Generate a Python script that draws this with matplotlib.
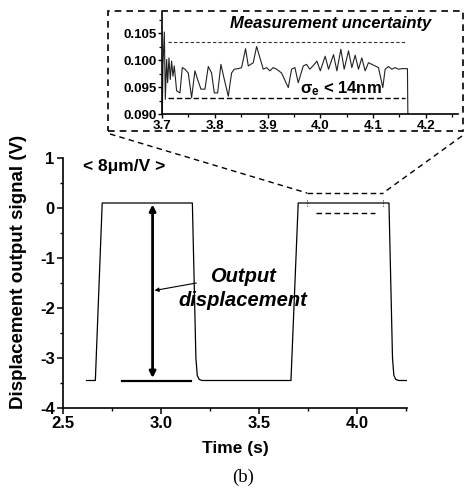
import matplotlib
matplotlib.use("Agg")
import matplotlib.pyplot as plt
from matplotlib.lines import Line2D
from matplotlib.patches import Rectangle
from matplotlib.ticker import MultipleLocator, FormatStrFormatter

plt.rcParams['font.family'] = ['Liberation Sans', 'DejaVu Sans']
plt.rcParams['axes.unicode_minus'] = False
plt.rcParams['mathtext.fontset'] = 'custom'
plt.rcParams['mathtext.rm'] = 'Liberation Sans'
plt.rcParams['mathtext.it'] = 'Liberation Sans:italic'
plt.rcParams['mathtext.bf'] = 'Liberation Sans:bold'

# ---------------- data ----------------
main_time = [2.620, 2.665, 2.700, 3.160, 3.178, 3.185, 3.195, 3.210, 3.663,
             3.700, 4.163, 4.181, 4.188, 4.198, 4.213, 4.255]
main_signal = [-3.45, -3.45, 0.10, 0.10, -3.00, -3.35, -3.43, -3.45, -3.45,
               0.10, 0.10, -3.00, -3.35, -3.43, -3.45, -3.45]

inset_time = [3.7000, 3.7018, 3.7044, 3.7063, 3.7088, 3.7107, 3.7132, 3.7157,
              3.7182, 3.7208, 3.7233, 3.7277, 3.7340, 3.7384, 3.7435, 3.7498,
              3.7561, 3.7624, 3.7675, 3.7738, 3.7814, 3.7877, 3.7940, 3.7991,
              3.8054, 3.8117, 3.8167, 3.8256, 3.8319, 3.8369, 3.8445, 3.8508,
              3.8584, 3.8635, 3.8729, 3.8793, 3.8856, 3.8919, 3.8982, 3.9045,
              3.9108, 3.9172, 3.9266, 3.9393, 3.9456, 3.9519, 3.9582, 3.9677,
              3.9740, 3.9800, 3.9870, 3.9936, 4.0000, 4.0093, 4.0156, 4.0251,
              4.0314, 4.0390, 4.0453, 4.0535, 4.0598, 4.0661, 4.0724, 4.0787,
              4.0850, 4.0913, 4.0977, 4.1040, 4.1103, 4.1185, 4.1229, 4.1292,
              4.1355, 4.1418, 4.1481, 4.1544, 4.1652, 4.1664]
inset_signal = [0.0850, 0.0990, 0.1052, 0.0927, 0.1001, 0.0958, 0.1004, 0.0964,
                0.0998, 0.0970, 0.0989, 0.0943, 0.0939, 0.0986, 0.0983, 0.0976,
                0.0930, 0.0980, 0.0964, 0.0946, 0.0946, 0.0988, 0.0976, 0.0939,
                0.0939, 0.0992, 0.0970, 0.0933, 0.0976, 0.0983, 0.0984, 0.0986,
                0.1021, 0.0989, 0.0995, 0.1025, 0.1004, 0.0983, 0.0986, 0.0980,
                0.0986, 0.0983, 0.0976, 0.0949, 0.0983, 0.0986, 0.0958, 0.0989,
                0.0992, 0.0983, 0.0990, 0.0998, 0.0980, 0.1007, 0.0983, 0.1010,
                0.0980, 0.1020, 0.0983, 0.1017, 0.0986, 0.1009, 0.0983, 0.1004,
                0.0980, 0.0995, 0.0992, 0.0989, 0.0986, 0.0949, 0.0983, 0.0988,
                0.0983, 0.0986, 0.0983, 0.0984, 0.0984, 0.0850]

uncert_upper = 0.1034
uncert_lower = 0.0930
uncert_range = [3.712, 4.160]

main_xticks = [2.5, 3.0, 3.5, 4.0]
main_yticks = [-4, -3, -2, -1, 0, 1]
inset_xticks = [3.7, 3.8, 3.9, 4.0, 4.1, 4.2]
inset_yticks = [0.090, 0.095, 0.100, 0.105]

arrow_x = 2.957
arrow_top = 0.10
arrow_bottom = -3.45
baseline_x = [2.80, 3.155]

# ---------------- figure ----------------
W, H = 465, 493
fig = plt.figure(figsize=(W / 100, H / 100), dpi=100)

def fr(l, t, r, b):
    return [l / W, 1 - b / H, (r - l) / W, (b - t) / H]

ax = fig.add_axes(fr(63, 158, 407, 408))
ax.plot(main_time, main_signal, color='black', lw=0.9)
ax.set_xlim(2.5, 4.255)
ax.set_ylim(-4, 1)
ax.set_xticks(main_xticks)
ax.set_yticks(main_yticks)
ax.xaxis.set_major_formatter(FormatStrFormatter('%.1f'))
ax.xaxis.set_minor_locator(MultipleLocator(0.25))
ax.yaxis.set_minor_locator(MultipleLocator(0.5))
for s in ['top', 'right']:
    ax.spines[s].set_visible(False)
for s in ['left', 'bottom']:
    ax.spines[s].set_linewidth(1.2)
ax.tick_params(which='major', direction='out', length=4, width=1.1,
               labelsize=12, pad=2)
ax.tick_params(which='minor', direction='out', length=2.5, width=1.0)
for lab in ax.get_xticklabels() + ax.get_yticklabels():
    lab.set_fontweight('bold')
ax.set_xlabel('Time (s)', fontsize=12.5, fontweight='bold', labelpad=7)
ax.set_ylabel('Displacement output signal (V)', fontsize=13.5, fontweight='bold')
ax.yaxis.set_label_coords(-0.105, 0.545)

# double arrow and base line
ax.annotate('', xy=(arrow_x, arrow_top - 0.03), xytext=(arrow_x, arrow_bottom + 0.05),
            arrowprops=dict(arrowstyle='<|-|>', color='black', lw=2.0,
                            mutation_scale=9, shrinkA=0, shrinkB=0))
ax.plot(baseline_x, [arrow_bottom, arrow_bottom], color='black', lw=1.6)

ax.annotate('', xy=(arrow_x + 0.01, -1.65), xytext=(3.18, -1.50),
            arrowprops=dict(arrowstyle='-|>', color='black', lw=0.8,
                            mutation_scale=6, shrinkA=0, shrinkB=0))
ax.text(3.42, -1.36, 'Output', fontsize=14.5, fontweight='bold', style='italic',
        ha='center', va='center')
ax.text(3.42, -1.86, 'displacement', fontsize=14.5, fontweight='bold', style='italic',
        ha='center', va='center')
ax.text(2.60, 0.82, '< 8\u03bcm/V >', fontsize=12.5, fontweight='bold',
        ha='left', va='center')

# zoom window marks on the second pulse
zx0, zx1 = 3.745, 4.133
ax.plot([zx0, zx1], [0.30, 0.30], color='black', lw=1.0, ls=(0, (4, 2.5)))
ax.plot([3.79, 4.09], [-0.10, -0.10], color='black', lw=1.0, ls=(0, (4, 2.5)))
ax.plot([zx0, zx0], [0.16, 0.04], color='black', lw=0.7, ls=':')
ax.plot([zx1, zx1], [0.16, 0.04], color='black', lw=0.7, ls=':')

# ---------------- inset ----------------
axi = fig.add_axes(fr(162, 12, 458, 114))
axi.plot(inset_time, inset_signal, color='#222222', lw=0.8)
axi.plot(uncert_range, [uncert_upper, uncert_upper], color='#333333', lw=0.8,
         ls=(0, (3, 2)))
axi.plot(uncert_range, [uncert_lower, uncert_lower], color='black', lw=1.0,
         ls=(0, (4, 2)))
axi.set_xlim(3.7, 4.261)
axi.set_ylim(0.090, 0.1089)
axi.set_xticks(inset_xticks)
axi.set_yticks(inset_yticks)
axi.xaxis.set_major_formatter(FormatStrFormatter('%.1f'))
axi.yaxis.set_major_formatter(FormatStrFormatter('%.3f'))
axi.xaxis.set_minor_locator(MultipleLocator(0.05))
axi.yaxis.set_minor_locator(MultipleLocator(0.0025))
for s in ['top', 'right']:
    axi.spines[s].set_visible(False)
for s in ['left', 'bottom']:
    axi.spines[s].set_linewidth(1.2)
axi.tick_params(which='major', direction='out', length=3, width=1.0,
                labelsize=9.5, pad=1)
axi.tick_params(which='minor', direction='out', length=2, width=0.9)
for lab in axi.get_xticklabels() + axi.get_yticklabels():
    lab.set_fontweight('bold')
axi.patch.set_alpha(0)
axi.text(4.02, 0.1067, 'Measurement uncertainty', fontsize=12,
         fontweight='bold', style='italic', ha='center', va='center')
axi.text(4.04, 0.0947, '\u03c3$_{\\mathbf{e}}$ < 14nm', fontsize=12,
         fontweight='bold', ha='center', va='center')

# outer dashed box around the inset
box = Rectangle((108 / W, 1 - 131 / H), (463 - 108) / W, (131 - 11) / H,
                transform=fig.transFigure, fill=False, ec='black', lw=1.2,
                ls=(0, (4, 3)))
fig.add_artist(box)

# connectors from the zoom window to the inset box
def data_to_fig(x, y):
    p = ax.transData.transform((x, y))
    return fig.transFigure.inverted().transform(p)

fig.canvas.draw()
p0 = data_to_fig(zx0, 0.30)
p1 = data_to_fig(zx1, 0.30)
fig.add_artist(Line2D([110 / W, p0[0]], [1 - 134 / H, p0[1]], transform=fig.transFigure,
                      color='black', lw=1.0, ls=(0, (4, 3))))
fig.add_artist(Line2D([462 / W, p1[0]], [1 - 136 / H, p1[1]], transform=fig.transFigure,
                      color='black', lw=1.0, ls=(0, (4, 3))))

fig.text(243 / W, 1 - 477 / H, '(b)', fontsize=13.5, family='Liberation Serif',
         ha='center', va='center')

fig.savefig('out.png', dpi=100)
